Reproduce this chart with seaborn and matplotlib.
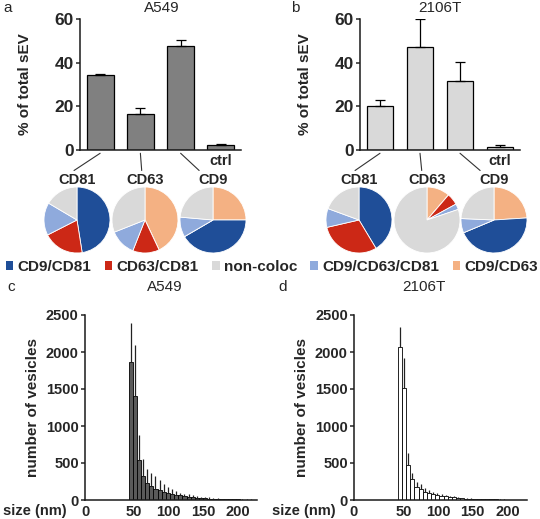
import numpy as np
import pandas as pd
import matplotlib
matplotlib.use("Agg")
import matplotlib.pyplot as plt
import seaborn as sns
from matplotlib.patches import Patch, ConnectionPatch

W, H, DPI = 540, 519, 100

# ---- panel a / b : % of total sEV ----
bar_cats = ["CD81", "CD63", "CD9", "ctrl"]
bar_ticklabels = ["", "", "", "ctrl"]
a549_pct = [34.5, 16.3, 47.8, 2.3]
a549_pct_err = [0.5, 2.8, 2.7, 0.5]
t2106_pct = [20.0, 47.3, 31.8, 1.3]
t2106_pct_err = [3.0, 12.7, 8.5, 1.2]

# ---- pies (clockwise from 12 o'clock) ----
pie_names = ["CD9/CD63", "CD9/CD81", "CD63/CD81", "CD9/CD63/CD81", "non-coloc"]
pie_colors = ["#F4B183", "#1F4E98", "#CC2816", "#8FAADC", "#D9D9D9"]
legend_order = ["CD9/CD81", "CD63/CD81", "non-coloc", "CD9/CD63/CD81", "CD9/CD63"]
pie_titles = ["CD81", "CD63", "CD9"]
a549_cd81 = [0, 47.5, 20.0, 16.0, 16.5]
a549_cd63 = [43.0, 0, 13.0, 13.0, 31.0]
a549_cd9 = [25.0, 41.6, 0, 9.8, 23.6]
t2106_cd81 = [0, 41.4, 30.0, 9.2, 19.4]
t2106_cd63 = [11.3, 0, 5.7, 2.8, 80.2]
t2106_cd9 = [24.0, 44.7, 0, 7.0, 24.3]

# ---- panel c / d : size distribution ----
hist_edges = list(range(42, 229, 6))
hist_ticks = [50, 100, 150, 200]
hist_ticklabels = ["0", "50", "100", "150", "200"]
a549_counts = [1869, 1405, 540, 329, 225, 189, 153, 131, 108, 95, 81, 72, 63, 54, 45,
               38, 32, 27, 23, 20, 17, 14, 12, 10, 9, 8, 7, 6, 5, 4, 4]
a549_top = [2396, 2095, 878, 560, 414, 369, 324, 270, 216, 180, 149, 122, 99, 86, 77,
            65, 55, 46, 40, 34, 28, 24, 20, 17, 14, 12, 10, 9, 8, 7, 6]
t2106_counts = [2063, 1509, 473, 279, 180, 144, 113, 95, 81, 68, 59, 50, 43, 36, 30,
                25, 20, 17, 14, 12, 10, 9, 8, 7, 6, 5, 4, 4, 3, 3, 2]
t2106_top = [2342, 1923, 631, 369, 248, 216, 158, 135, 113, 90, 77, 66, 57, 48, 40,
             33, 27, 23, 19, 16, 14, 12, 10, 9, 8, 7, 6, 5, 4, 4, 3]

sns.set_style("ticks")
plt.rcParams['font.family'] = ['Liberation Sans', 'DejaVu Sans']
plt.rcParams['font.weight'] = 'bold'
plt.rcParams['axes.labelweight'] = 'bold'
plt.rcParams['axes.linewidth'] = 1.1
plt.rcParams['axes.edgecolor'] = '#1a1a1a'


def rect(l, t, r, b):
    return [l / W, 1 - b / H, (r - l) / W, (b - t) / H]


def pt(x, y):
    return (x / W, 1 - y / H)


fig = plt.figure(figsize=(W / DPI, H / DPI), dpi=DPI)


def bar_panel(box, vals, errs, color):
    ax = fig.add_axes(rect(*box))
    df = pd.DataFrame({"marker": bar_cats, "pct": vals})
    sns.barplot(data=df, x="marker", y="pct", color=color, saturation=1,
                edgecolor="black", linewidth=0.9, width=0.67, ax=ax)
    ax.errorbar(range(len(vals)), vals, yerr=[np.zeros(len(vals)), errs], fmt="none",
                ecolor="black", elinewidth=0.9, capsize=3.6, capthick=0.9)
    ax.set_xlim(-0.5, 3.5)
    ax.set_ylim(0, 60)
    ax.set_yticks([0, 20, 40, 60])
    ax.set_xticks(range(4))
    ax.set_xticklabels(bar_ticklabels, fontsize=10.5)
    ax.tick_params(axis="x", length=0, pad=3)
    ax.tick_params(axis="y", length=3, width=1.1, labelsize=12.5, pad=1.5)
    ax.set_xlabel("")
    ax.set_ylabel("% of total sEV", fontsize=11)
    ax.yaxis.set_label_coords(-0.30, 0.5)
    sns.despine(ax=ax)
    return ax


def pie_panel(cx, data, title):
    r = 33
    ax = fig.add_axes(rect(cx - r, 220 - r, cx + r, 220 + r))
    ax.pie(data, colors=pie_colors, startangle=90, counterclock=False,
           wedgeprops=dict(edgecolor="white", linewidth=0.6))
    ax.set_xlim(-1, 1)
    ax.set_ylim(-1, 1)
    ax.text(0.5, 1.11, title, transform=ax.transAxes, ha="center", va="center",
            fontsize=10.5)
    return ax


def hist_panel(box, counts, tops, fill):
    ax = fig.add_axes(rect(*box))
    centers = [(hist_edges[i] + hist_edges[i + 1]) / 2 for i in range(len(counts))]
    sns.histplot(x=centers, weights=counts, bins=hist_edges, color=fill, alpha=1,
                 edgecolor="black", linewidth=0.6, ax=ax)
    err = np.array(tops) - np.array(counts)
    ax.errorbar(centers, counts, yerr=[np.zeros(len(counts)), err], fmt="none",
                ecolor="#222222", elinewidth=0.9, capsize=0)
    ax.set_xlim(-21, 228)
    ax.set_ylim(0, 2500)
    ax.set_xticks([ax.get_xlim()[0]] + hist_ticks)
    ax.set_xticklabels(hist_ticklabels)
    ax.set_yticks([0, 500, 1000, 1500, 2000, 2500])
    ax.tick_params(axis="x", length=0, pad=3.5, labelsize=10.5)
    ax.tick_params(axis="y", length=3, width=1.1, labelsize=10.5, pad=1.5)
    ax.set_ylabel("number of vesicles", fontsize=11)
    ax.yaxis.set_label_coords(-0.26, 0.5)
    ax.set_xlabel("size (nm)", fontsize=10.5)
    ax.xaxis.set_label_coords(-0.29, -0.06)
    ax.xaxis.label.set_va("center")
    sns.despine(ax=ax)
    return ax


ax_a = bar_panel((80, 19, 241, 150), a549_pct, a549_pct_err, "#808080")
ax_b = bar_panel((360, 19, 520, 150), t2106_pct, t2106_pct_err, "#D9D9D9")

pies_a = [pie_panel(cx, d, t) for cx, d, t in
          zip([77, 145, 213], [a549_cd81, a549_cd63, a549_cd9], pie_titles)]
pies_b = [pie_panel(cx, d, t) for cx, d, t in
          zip([359, 427, 494], [t2106_cd81, t2106_cd63, t2106_cd9], pie_titles)]

# connector lines bar -> pie
for bax, pies, ends in [(ax_a, pies_a, [0.455, 0.45, 0.29]),
                        (ax_b, pies_b, [0.44, 0.42, 0.29])]:
    for i, (pax, ex) in enumerate(zip(pies, ends)):
        con = ConnectionPatch(xyA=(i, -0.025), coordsA=bax.get_xaxis_transform(),
                              xyB=(ex, 1.25), coordsB=pax.transAxes,
                              color="#333333", lw=0.8)
        fig.add_artist(con)

handles = [Patch(facecolor=pie_colors[pie_names.index(n)], edgecolor="none")
           for n in legend_order]
fig.legend(handles, legend_order, loc="center", bbox_to_anchor=pt(272, 267), ncol=5,
           frameon=False, handlelength=0.5, handleheight=0.5, handletextpad=0.3,
           columnspacing=0.85, borderpad=0, borderaxespad=0,
           prop=dict(size=11, weight="bold"))

ax_c = hist_panel((85, 315, 257, 500), a549_counts, a549_top, "#5A5A5A")
ax_d = hist_panel((354, 315, 527, 500), t2106_counts, t2106_top, "white")

# titles and panel letters
for x, y, s in [(162, 8, "A549"), (440, 8, "2106T"), (165, 287, "A549"), (424, 287, "2106T")]:
    fig.text(*pt(x, y), s, ha="center", va="center", fontsize=11, fontweight="normal")
for x, y, s in [(8, 8, "a"), (295, 8, "b"), (11, 287, "c"), (283, 287, "d")]:
    fig.text(*pt(x, y), s, ha="center", va="center", fontsize=11, fontweight="normal")

fig.savefig("out.png", dpi=DPI)
